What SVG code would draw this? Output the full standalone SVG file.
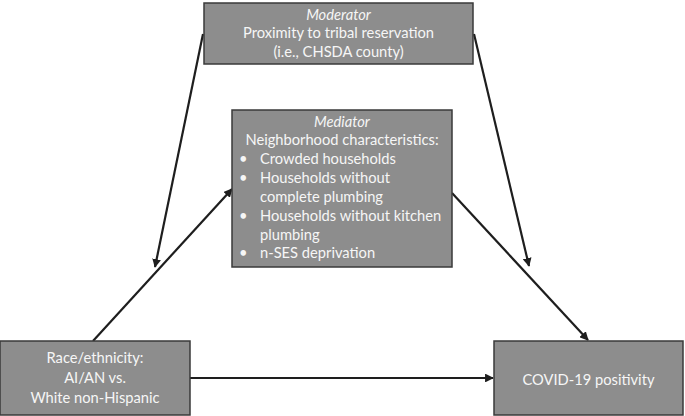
<svg xmlns="http://www.w3.org/2000/svg" width="685" height="416" viewBox="0 0 685 416">
<style>
.box{fill:#8d8d8d;stroke:#3a3a3a;stroke-width:1.5}
.t{font-family:Lato,"Open Sans","Liberation Sans",sans-serif;font-size:14.7px;fill:#f6f6f6}
.c{text-anchor:middle}
.i{font-style:italic}
.ln{stroke:#1e1e1e;stroke-width:2.2;fill:none;marker-end:url(#ah)}
</style>
<defs>
<marker id="ah" viewBox="0 0 10 10" refX="9" refY="5" markerWidth="4" markerHeight="4" orient="auto" markerUnits="strokeWidth">
<path d="M0,0 L10,5 L0,10 z" fill="#1e1e1e"/>
</marker>
</defs>
<g id="connectors">
<line class="ln" x1="203" y1="34" x2="155" y2="267"/>
<line class="ln" x1="93" y1="341" x2="232" y2="189"/>
<line class="ln" x1="474" y1="34" x2="529" y2="266"/>
<line class="ln" x1="452" y1="193" x2="588" y2="340"/>
<line class="ln" x1="190" y1="378" x2="493" y2="378"/>
</g>
<g id="moderator">
<rect class="box" x="204" y="3" width="269" height="61"/>
<text class="t c i" x="338.5" y="20">Moderator</text>
<text class="t c" x="338.5" y="38">Proximity to tribal reservation</text>
<text class="t c" x="338.5" y="57">(i.e., CHSDA county)</text>
</g>
<g id="mediator">
<rect class="box" x="232" y="110" width="220" height="157"/>
<text class="t c i" x="342" y="127">Mediator</text>
<text class="t c" x="342" y="145">Neighborhood characteristics:</text>
<text class="t" x="239" y="164">•</text>
<text class="t" x="260" y="164">Crowded households</text>
<text class="t" x="239" y="183">•</text>
<text class="t" x="260" y="183">Households without</text>
<text class="t" x="260" y="202">complete plumbing</text>
<text class="t" x="239" y="221">•</text>
<text class="t" x="260" y="221">Households without kitchen</text>
<text class="t" x="260" y="240">plumbing</text>
<text class="t" x="239" y="258">•</text>
<text class="t" x="260" y="258">n-SES deprivation</text>
</g>
<g id="race">
<rect class="box" x="0" y="341" width="190" height="74"/>
<text class="t c" x="95" y="363">Race/ethnicity:</text>
<text class="t c" x="95" y="383">AI/AN vs.</text>
<text class="t c" x="95" y="403">White non-Hispanic</text>
</g>
<g id="covid">
<rect class="box" x="494" y="341" width="189" height="74"/>
<text class="t c" x="588.5" y="385">COVID-19 positivity</text>
</g>
</svg>
